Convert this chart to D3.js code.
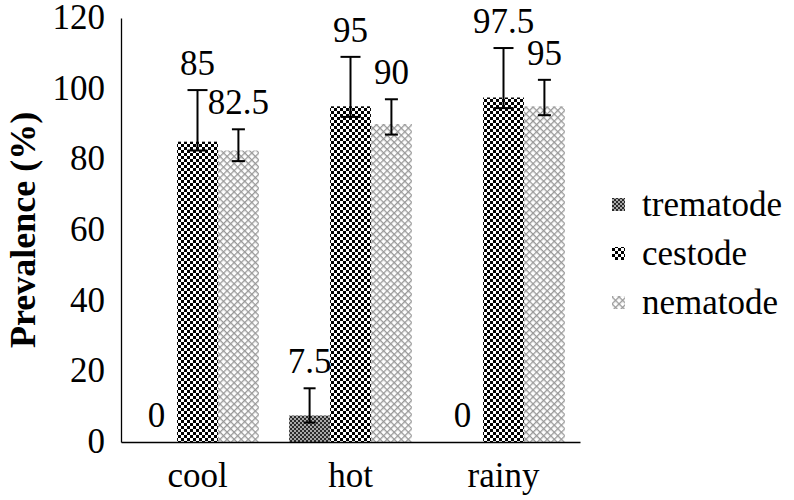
<!DOCTYPE html>
<html>
<head>
<meta charset="utf-8">
<style>
  body { margin: 0; background: #fff; }
</style>
</head>
<body>
<div id="chart"></div>
<script src="https://cdn.jsdelivr.net/npm/d3@7/dist/d3.min.js"></script>
<script>
// data
var seasons = ["cool", "hot", "rainy"];
var parasites = ["trematode", "cestode", "nematode"];
var trematode = [0, 7.5, 0];
var cestode = [85, 95, 97.5];
var nematode = [82.5, 90, 95];
// error bar extents (upper / lower), null = no bar
var trematodeUp = [null, 7.7, null];
var trematodeDown = [null, 2, null];
var cestodeUp = [14.6, 14, 14];
var cestodeDown = [2.5, 3, 3];
var nematodeUp = [6, 7, 7.5];
var nematodeDown = [3, 3, 2.5];
var yTicks = [0, 20, 40, 60, 80, 100, 120];

var width = 794, height = 500;
var serif = "Liberation Serif";
var values = {trematode: trematode, cestode: cestode, nematode: nematode};
var ups = {trematode: trematodeUp, cestode: cestodeUp, nematode: nematodeUp};
var downs = {trematode: trematodeDown, cestode: cestodeDown, nematode: nematodeDown};
var capW = {trematode: 12, cestode: 20, nematode: 13};

var svg = d3.select("#chart").append("svg")
  .attr("width", width).attr("height", height);

// fill patterns
var defs = svg.append("defs");
var pt = defs.append("pattern").attr("id", "p-trematode")
  .attr("patternUnits", "userSpaceOnUse").attr("width", 4).attr("height", 4);
pt.append("rect").attr("width", 4).attr("height", 4).attr("fill", "#a8a8a8");
pt.append("rect").attr("width", 2).attr("height", 2).attr("fill", "#2a2a2a");
pt.append("rect").attr("x", 2).attr("y", 2).attr("width", 2).attr("height", 2).attr("fill", "#2a2a2a");

var pc = defs.append("pattern").attr("id", "p-cestode")
  .attr("patternUnits", "userSpaceOnUse").attr("width", 6).attr("height", 6);
pc.append("rect").attr("width", 6).attr("height", 6).attr("fill", "#fff");
pc.append("rect").attr("width", 3).attr("height", 3).attr("fill", "#000");
pc.append("rect").attr("x", 3).attr("y", 3).attr("width", 3).attr("height", 3).attr("fill", "#000");

var pn = defs.append("pattern").attr("id", "p-nematode")
  .attr("patternUnits", "userSpaceOnUse").attr("width", 5).attr("height", 5)
  .attr("patternTransform", "rotate(45)");
pn.append("rect").attr("width", 5).attr("height", 5).attr("fill", "#fff");
pn.append("rect").attr("width", 5).attr("height", 1.3).attr("fill", "#999");
pn.append("rect").attr("width", 1.3).attr("height", 5).attr("fill", "#999");

var x = d3.scaleBand().domain(seasons).range([121, 580]);
var xs = d3.scaleBand().domain(parasites).range([0, x.bandwidth()])
  .paddingInner(0).paddingOuter(0.37);
var y = d3.scaleLinear().domain([0, 120]).range([442, 18]);

// bars
var groups = svg.selectAll("g.season").data(seasons).enter()
  .append("g").attr("class", "season")
  .attr("transform", function(d) { return "translate(" + x(d) + ",0)"; });

parasites.forEach(function(p) {
  groups.append("rect")
    .attr("x", xs(p))
    .attr("width", xs.bandwidth())
    .attr("y", function(d, i) { return y(values[p][i]); })
    .attr("height", function(d, i) { return y(0) - y(values[p][i]); })
    .attr("fill", "url(#p-" + p + ")");
});

// error bars
parasites.forEach(function(p) {
  groups.each(function(d, i) {
    if (ups[p][i] == null) return;
    var g = d3.select(this);
    var cx = xs(p) + xs.bandwidth() / 2;
    var v = values[p][i];
    var top = y(v + ups[p][i]), bot = y(v - downs[p][i]);
    g.append("line").attr("x1", cx).attr("x2", cx).attr("y1", top).attr("y2", bot)
      .attr("stroke", "#000").attr("stroke-width", 2);
    [top, bot].forEach(function(yy) {
      g.append("line").attr("x1", cx - capW[p] / 2).attr("x2", cx + capW[p] / 2)
        .attr("y1", yy).attr("y2", yy).attr("stroke", "#000").attr("stroke-width", 2);
    });
  });
});

// data labels
parasites.forEach(function(p) {
  groups.append("text")
    .attr("x", xs(p) + xs.bandwidth() / 2)
    .attr("y", function(d, i) {
      var v = values[p][i];
      var top = ups[p][i] == null ? y(v) : y(v + ups[p][i]);
      return top - 15;
    })
    .attr("text-anchor", "middle")
    .style("font-family", serif)
    .style("font-size", "35px")
    .text(function(d, i) { return values[p][i]; });
});

// axes
var yAxis = d3.axisLeft(y).tickValues(yTicks).tickSize(0).tickPadding(16);
var ga = svg.append("g").attr("transform", "translate(121,0)").call(yAxis)
  .attr("font-family", null).attr("font-size", null);
ga.select(".domain").attr("stroke", "#000").attr("stroke-width", 1.3);
ga.selectAll("text").style("font-family", serif).style("font-size", "35px")
  .attr("fill", "#000").attr("dy", "0.3em");

var xAxis = d3.axisBottom(x).tickSize(0).tickPadding(20);
var gx = svg.append("g").attr("transform", "translate(0,442)").call(xAxis)
  .attr("font-family", null).attr("font-size", null);
gx.select(".domain").attr("stroke", "#000").attr("stroke-width", 1.3);
gx.selectAll("text").style("font-family", serif).style("font-size", "35px")
  .attr("fill", "#000");

// y title
svg.append("text")
  .attr("transform", "translate(35,230) rotate(-90)")
  .attr("text-anchor", "middle")
  .style("font-family", serif)
  .style("font-size", "36px").style("font-weight", "bold")
  .text("Prevalence (%)");

// legend
var legend = svg.selectAll("g.legend").data(parasites).enter()
  .append("g").attr("class", "legend")
  .attr("transform", function(d, i) { return "translate(612," + (205 + i * 49) + ")"; });
legend.append("rect").attr("x", 0).attr("y", -7).attr("width", 13).attr("height", 13)
  .attr("fill", function(d) { return "url(#p-" + d + ")"; });
legend.append("text").attr("x", 30).attr("dy", "0.32em")
  .style("font-family", serif)
  .style("font-size", "35px").text(function(d) { return d; });
</script>
</body>
</html>
